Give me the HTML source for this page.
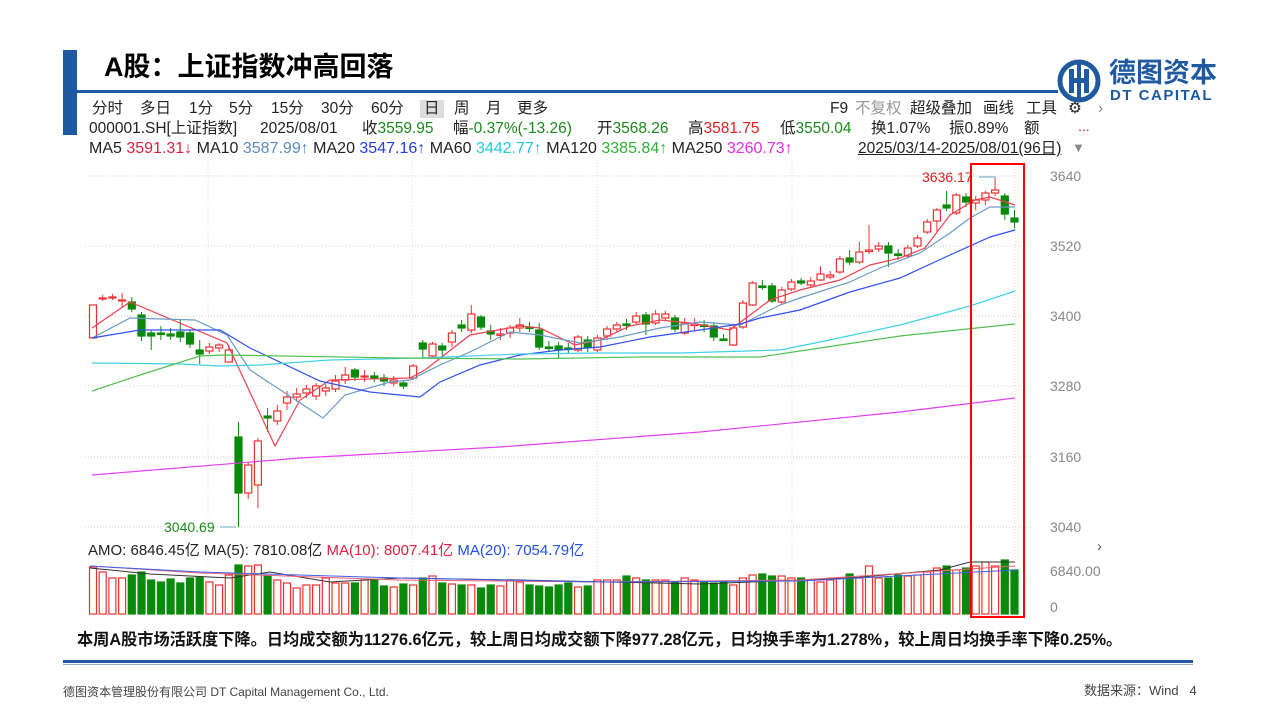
<!DOCTYPE html>
<html><head><meta charset="utf-8"><style>
body{margin:0;width:1280px;height:720px;background:#fff;position:relative;overflow:hidden;font-family:"Liberation Sans","Noto Sans CJK SC",sans-serif}
.a{position:absolute;white-space:nowrap}
.t{position:absolute;top:100px;font-size:15.5px;line-height:18px;height:18px;color:#222;white-space:nowrap}
.r{position:absolute;top:120px;font-size:15.5px;line-height:18px;height:18px;color:#222;white-space:nowrap}
.g{color:#1a8a1a}.rd{color:#e02020}
</style></head><body>
<div class="a" style="left:63px;top:50px;width:14px;height:85px;background:#1f5aa0"></div>
<div class="a" style="left:77px;top:90px;width:981px;height:3px;background:#1f5aa0"></div>
<div class="a" style="left:104px;top:45px;font-size:27px;font-weight:bold;color:#000;letter-spacing:0px">A股：上证指数冲高回落</div>
<svg class="a" style="left:1056px;top:58px" width="46" height="46" viewBox="0 0 46 46"><circle cx="23" cy="23" r="19" fill="none" stroke="#1f5aa0" stroke-width="5"/><rect x="13" y="11" width="5" height="24" fill="#1f5aa0"/><rect x="28" y="11" width="5" height="24" fill="#1f5aa0"/><rect x="13" y="20" width="20" height="5" fill="#1f5aa0"/><rect x="21" y="4" width="4" height="38" fill="#1f5aa0"/></svg>
<div class="a" style="left:1109px;top:58px;font-size:27px;font-weight:bold;color:#1f5aa0;letter-spacing:0px;line-height:30px">德图资本</div>
<div class="a" style="left:1110px;top:88px;font-size:15px;font-weight:bold;color:#1f5aa0;letter-spacing:1.5px;line-height:16px">DT CAPITAL</div>
<span class="t" style="left:92px">分时</span><span class="t" style="left:140px">多日</span><span class="t" style="left:189px">1分</span><span class="t" style="left:229px">5分</span><span class="t" style="left:271px">15分</span><span class="t" style="left:321px">30分</span><span class="t" style="left:371px">60分</span><span class="t" style="left:420px;background:#ddd;padding:0 4px">日</span><span class="t" style="left:454px">周</span><span class="t" style="left:486px">月</span><span class="t" style="left:517px">更多</span>
<span class="t" style="left:830px">F9</span><span class="t" style="left:855px;color:#999">不复权</span><span class="t" style="left:910px">超级叠加</span><span class="t" style="left:983px">画线</span><span class="t" style="left:1026px">工具</span><span class="t" style="left:1068px">⚙</span><span class="t" style="left:1098px;color:#888">›</span>
<span class="r" style="left:89px">000001.SH[上证指数]</span><span class="r" style="left:260px">2025/08/01</span><span class="r" style="left:362px">收<span class="g">3559.95</span></span><span class="r" style="left:453px">幅<span class="g">-0.37%(-13.26)</span></span><span class="r" style="left:597px">开<span class="g">3568.26</span></span><span class="r" style="left:688px">高<span class="rd">3581.75</span></span><span class="r" style="left:780px">低<span class="g">3550.04</span></span><span class="r" style="left:871px">换1.07%</span><span class="r" style="left:949px">振0.89%</span><span class="r" style="left:1024px">额</span>
<div class="a" style="left:1078px;top:118px;font-size:14px;color:#e02020">...</div>
<div class="a" style="left:89px;top:140px;font-size:16px;line-height:18px;color:#222">MA5 <span style="color:#e02040">3591.31↓</span> MA10 <span style="color:#5a8ac0">3587.99↑</span> MA20 <span style="color:#2040f0">3547.16↑</span> MA60 <span style="color:#20c8e0">3442.77↑</span> MA120 <span style="color:#30b030">3385.84↑</span> MA250 <span style="color:#e030e0">3260.73↑</span></div>
<div class="a" style="left:858px;top:140px;font-size:15.5px;line-height:18px;color:#222;text-decoration:underline">2025/03/14-2025/08/01(96日)</div>
<div class="a" style="left:1072px;top:140px;font-size:13px;color:#888">▼</div>
<svg class="a" style="left:0;top:0" width="1280" height="720" id="s"></svg>
<div class="a" style="left:88px;top:539px;font-size:15px;color:#222">AMO: 6846.45亿 MA(5): 7810.08亿 <span style="color:#e02040">MA(10): 8007.41亿</span> <span style="color:#2050f0">MA(20): 7054.79亿</span></div>
<div class="a" style="left:1097px;top:538px;font-size:15px;color:#555">›</div>
<div class="a" style="left:1050px;top:563px;font-size:14px;color:#888">6840.00</div>
<div class="a" style="left:1050px;top:599px;font-size:14px;color:#888">0</div>
<div class="a" style="left:77px;top:626px;font-size:16.2px;font-weight:bold;color:#111">本周A股市场活跃度下降。日均成交额为11276.6亿元，较上周日均成交额下降977.28亿元，日均换手率为1.278%，较上周日均换手率下降0.25%。</div>
<div class="a" style="left:63px;top:660px;width:1130px;height:3px;background:#1f5aa0"></div>
<div class="a" style="left:63px;top:664px;width:1130px;height:1px;background:#9ab"></div>
<div class="a" style="left:63px;top:683px;font-size:12px;color:#444">德图资本管理股份有限公司 DT Capital Management Co., Ltd.</div>
<div class="a" style="left:1084px;top:680px;font-size:13px;color:#444">数据来源：Wind &nbsp; 4</div>
<script>
var s=document.getElementById('s'),h='';
function L(x1,y1,x2,y2,c,w,d){h+='<line x1="'+x1+'" y1="'+y1+'" x2="'+x2+'" y2="'+y2+'" stroke="'+c+'" stroke-width="'+(w||1)+'"'+(d?' stroke-dasharray="'+d+'"':'')+'/>';}
[176,246,316,386,457,527].forEach(function(y,i){L(85,y,1032,y,'#ccc',1,'1 2');h+='<text x="1050" y="'+(y+5)+'" font-size="14" fill="#888">'+[3640,3520,3400,3280,3160,3040][i]+'</text>';});
[208,412,597,792,1015].forEach(function(x){L(x,160,x,615,'#ddd',1,'1 2');});
L(85,581,1032,581,'#ddd',1,'1 2');
var C=[[338,305,305,338],[299,298,295,301],[298,297,294,300],[301,300,293,307],[302,309,297,312],[315,336,312,341],[333,336,330,350],[333,333,326,340],[334,336,328,340],[332,337,320,342],[333,344,330,348],[350,354,340,364],[351,347,343,354],[348,345,343,352],[362,350,345,362],[437,493,422,527],[493,465,462,499],[485,441,438,508],[416,418,408,432],[421,411,405,425],[403,397,391,410],[397,394,388,402],[393,389,385,398],[396,386,383,400],[391,388,384,396],[389,381,375,392],[380,375,367,384],[370,377,368,381],[377,376,370,382],[376,378,372,382],[378,381,374,386],[383,380,376,386],[383,386,380,389],[378,366,364,380],[343,349,340,358],[356,344,342,358],[346,350,343,356],[342,333,330,347],[325,328,320,332],[330,314,305,333],[317,327,315,330],[331,334,325,340],[334,334,328,340],[333,328,325,338],[328,325,318,332],[327,327,322,332],[330,347,323,350],[347,347,341,352],[346,350,342,358],[348,348,343,353],[350,337,335,352],[340,347,336,352],[350,338,335,352],[336,329,326,340],[329,325,322,332],[324,324,319,330],[322,316,312,324],[315,324,312,335],[323,314,310,325],[318,314,311,320],[318,329,315,332],[333,323,318,335],[324,324,318,330],[325,325,320,332],[326,337,322,341],[339,339,334,341],[345,328,325,346],[327,303,300,329],[305,283,281,306],[286,286,280,290],[286,301,283,303],[302,290,287,304],[289,282,279,291],[281,283,278,285],[285,281,277,287],[280,274,266,281],[277,275,271,279],[272,259,256,274],[258,262,250,265],[262,252,242,264],[250,250,225,254],[249,246,242,252],[246,253,242,267],[254,254,249,260],[256,248,245,258],[246,238,235,248],[232,222,219,234],[221,210,208,232],[205,208,191,211],[213,195,193,215],[197,202,193,207],[203,200,196,210],[200,193,191,205],[193,190,178,196],[196,214,193,220],[218,222,210,228]];
var V=[567,572,578,578,575,572,580,582,579,583,578,577,582,585,575,565,566,565,576,580,583,588,585,585,578,583,583,583,580,580,586,587,584,585,578,576,583,584,585,585,588,585,586,580,582,585,586,587,585,583,587,586,580,580,580,576,578,580,580,580,582,578,580,582,583,582,585,578,575,574,576,576,578,578,580,582,580,578,574,578,566,578,578,575,576,575,572,568,566,570,568,566,562,566,560,570];
C.forEach(function(c,i){var x=93+9.7*i,red=c[1]<c[0]||(c[1]==c[0]&&i%2==0),col=red?'#f03030':'#0a8a0a';
L(x,c[2],x,c[3],col,1);var t=Math.min(c[0],c[1]),b=Math.max(c[0],c[1]);if(b-t<1)b=t+1.5;
h+='<rect x="'+(x-3.5)+'" y="'+t+'" width="7" height="'+(b-t)+'" fill="'+(red?'#fff':col)+'" stroke="'+col+'" stroke-width="1.2"/>';
var vt=V[i];h+='<rect x="'+(x-3.5)+'" y="'+vt+'" width="7" height="'+(614-vt)+'" fill="'+(red?'#fff':col)+'" stroke="'+col+'" stroke-width="1.2"/>';});
function P(p,c,w){h+='<polyline fill="none" stroke="'+c+'" stroke-width="'+(w||1.2)+'" points="'+p+'"/>';}
P('92,328 130,302 227,343 275,446 300,400 330,380 410,378 425,370 470,335 520,326 540,328 575,345 600,340 630,326 660,320 690,323 730,330 770,300 800,290 840,280 870,265 900,258 925,248 950,215 975,200 990,197 1015,205','#f04050');
P('92,338 130,318 195,320 227,335 250,370 323,418 345,395 390,382 410,380 440,365 470,352 510,332 540,335 580,343 620,337 660,328 700,322 740,325 750,320 780,305 800,298 850,282 880,268 920,253 950,233 970,218 990,207 1015,207','#6a9ac8');
P('92,338 140,330 220,330 250,348 320,381 370,392 420,397 440,382 480,365 520,355 560,350 600,347 650,337 700,330 740,324 760,318 800,310 850,292 900,278 950,255 990,237 1015,230','#3050ee');
P('92,363 180,364 220,366 260,365 330,360 420,358 520,354 600,353 680,353 780,350 820,342 900,325 970,306 1015,291','#40d0e8');
P('92,391 140,375 200,356 225,355 400,358 520,359 640,357 760,357 820,348 900,336 1015,324','#50c050');
P('92,475 300,458 500,447 700,432 900,412 1015,398','#e040f0');
P('90,568 150,574 230,578 270,572 330,582 400,578 520,580 700,584 850,578 940,570 970,562 1015,562','#333',1);
P('90,566 200,573 400,580 600,582 800,580 1015,566','#f06070',1);
P('90,566 200,572 400,578 600,582 800,581 1015,570','#4060f0',1);
h+='<text x="164" y="532" font-size="14" fill="#1a8a1a">3040.69</text>';L(220,527,236,527,'#6ab',1);
h+='<text x="922" y="182" font-size="14" fill="#e02020">3636.17</text>';L(979,177,996,177,'#6ab',1);
h+='<rect x="971" y="164" width="53" height="453" fill="none" stroke="#f00" stroke-width="2"/>';
s.innerHTML=h;
</script>
</body></html>
